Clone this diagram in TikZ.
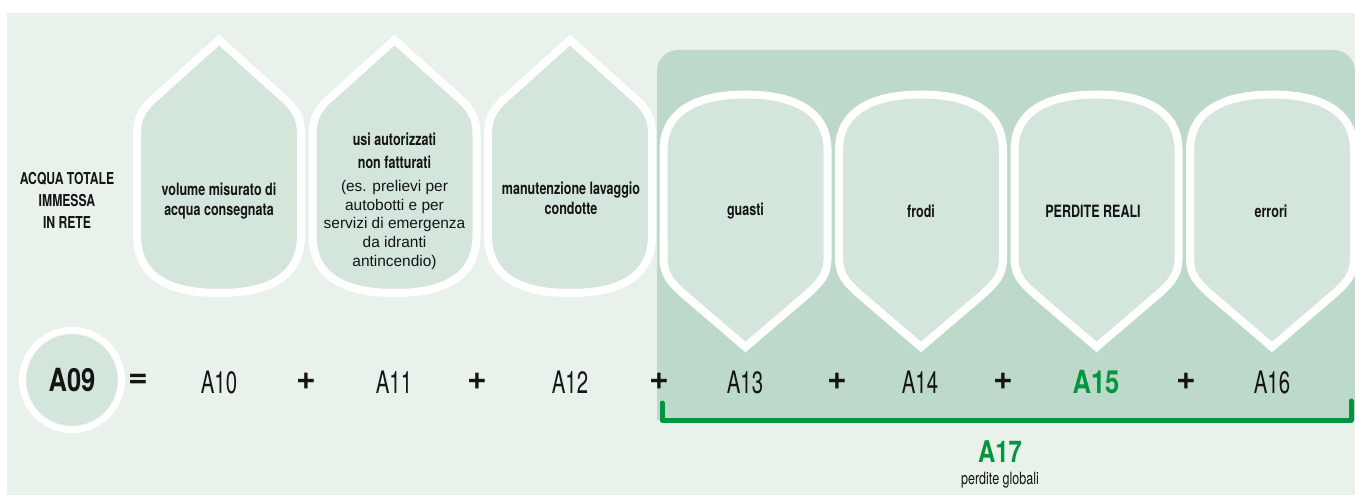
\documentclass[tikz,border=0pt]{standalone}
\usepackage{fontspec}
\setmainfont{Liberation Sans}
\newfontfamily\cnd[FakeStretch=0.74]{TeX Gyre Heros}
\newfontfamily\cndb[FakeStretch=0.8]{TeX Gyre Heros}
\newfontfamily\cndf[FakeStretch=0.66]{TeX Gyre Heros}
\newfontfamily\heros{TeX Gyre Heros}
\newfontfamily\arial{Liberation Sans}
\definecolor{bgl}{RGB}{232,242,235}
\definecolor{bgd}{RGB}{189,217,201}
\definecolor{dropf}{RGB}{212,230,219}
\definecolor{gr}{RGB}{0,150,64}
\definecolor{ink}{RGB}{20,20,20}
\tikzset{
  dropbox/.style={fill=dropf, draw=white, line width=8bp, line join=miter},
  headtxt/.style={text=ink, align=center, inner sep=0pt, font=\cnd\bfseries\fontsize{17}{20.5}\selectfont},
  smalltxt/.style={text=ink, align=center, inner sep=0pt, font=\arial\fontsize{15.5}{18.6}\selectfont},
  formtxt/.style={text=ink, inner sep=0pt, font=\cndf\fontsize{31}{31}\selectfont},
  boldtxt/.style={text=ink, inner sep=0pt, font=\cndb\bfseries\fontsize{32}{32}\selectfont},
  opertxt/.style={text=ink, inner sep=0pt, font=\heros\bfseries\fontsize{34}{34}\selectfont},
}
\newcommand{\topdrop}[1]{%
  \path[dropbox, xshift=#1bp] (0,40) -- (-60,94) .. controls (-75,107) and (-82,115) .. (-82,135) -- (-82,235) .. controls (-82,280) and (-45,293) .. (0,293) .. controls (45,293) and (82,280) .. (82,235) -- (82,135) .. controls (82,115) and (75,107) .. (60,94) -- cycle;}
\newcommand{\botdrop}[1]{%
  \path[dropbox, xshift=#1bp] (0,94.5) .. controls (50,94.5) and (82,112) .. (82,150) -- (82,258) .. controls (82,275) and (75,282) .. (62,294) -- (0,347) -- (-62,294) .. controls (-75,282) and (-82,275) .. (-82,258) -- (-82,150) .. controls (-82,112) and (-50,94.5) .. (0,94.5) -- cycle;}
\begin{document}
\begin{tikzpicture}[x=1bp, y=-1bp]
\useasboundingbox (0,0) rectangle (1355,495);
\fill[white] (0,0) rectangle (1355,495);
\fill[bgl] (7,13) rectangle (1355,495);
\fill[bgd, rounded corners=21bp] (657,420) -- (657,50) -- (1355,50) -- (1355,420);
\fill[bgd] (657,380) rectangle (1355,420);
% drops
\topdrop{219}
\topdrop{394.5}
\topdrop{570}
\botdrop{745.5}
\botdrop{921}
\botdrop{1096.5}
\botdrop{1272}
% texts
\node[headtxt, font=\cnd\bfseries\fontsize{16.5}{22}\selectfont] (tot) at (67,200) {ACQUA TOTALE\\IMMESSA\\IN RETE};
\node[headtxt] (t10) at (219,201) {volume misurato di\\acqua consegnata};
\node[headtxt, font=\cnd\bfseries\fontsize{17}{23}\selectfont] (t11) at (394.5,150.5) {usi autorizzati\\non fatturati};
\node[smalltxt] (t11b) at (394.5,225) {(es. prelievi per\\autobotti e per\\servizi di emergenza\\da idranti\\antincendio)};
\node[headtxt] (t12) at (571,198.5) {manutenzione lavaggio\\condotte};
\node[headtxt] (t13) at (745.5,211) {guasti};
\node[headtxt] (t14) at (921,211) {frodi};
\node[headtxt] (t15) at (1093,211) {PERDITE REALI};
\node[headtxt] (t16) at (1271,211) {errori};
% formula
\node[circle, minimum size=99bp, fill=dropf, draw=white, line width=7bp, inner sep=0pt] (c09) at (72,380) {};
\node[boldtxt] (a09) at (c09) {A09};
\node[opertxt] (eq) at (138,381) {=};
\node[formtxt] (a10) at (219,382) {A10};
\node[opertxt] (p1) at (306,381) {+};
\node[formtxt] (a11) at (394,382) {A11};
\node[opertxt] (p2) at (477,381) {+};
\node[formtxt] (a12) at (570,382) {A12};
\node[opertxt] (p3) at (659,381) {+};
\node[formtxt] (a13) at (745,382) {A13};
\node[opertxt] (p4) at (837,381) {+};
\node[formtxt] (a14) at (920,382) {A14};
\node[opertxt] (p5) at (1003,381) {+};
\node[boldtxt, text=gr] (a15) at (1096,382) {A15};
\node[opertxt] (p6) at (1186,381) {+};
\node[formtxt] (a16) at (1272,382) {A16};
% bracket
\coordinate (bl) at (662,403);
\coordinate (br) at (1351,401);
\draw[gr, line width=5bp, line cap=round, line join=round] (bl) -- (bl |- 0,420) -- (br |- 0,420) -- (br);
\node[boldtxt, text=gr, font=\cndb\bfseries\fontsize{30}{30}\selectfont] (a17) at (1000,452) {A17};
\node[text=ink, inner sep=0pt, font=\cnd\fontsize{17}{17}\selectfont] (pg) at (1000,480) {perdite globali};
\end{tikzpicture}
\end{document}
